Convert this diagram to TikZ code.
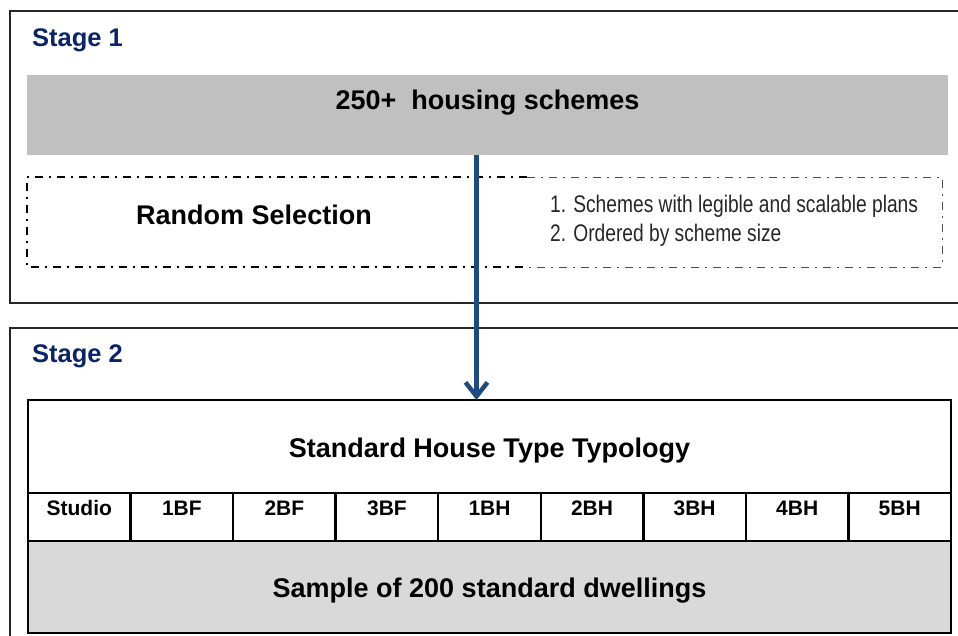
\documentclass[tikz,border=0pt]{standalone}
\usepackage{fontspec}
\setmainfont{Liberation Sans}
\newfontfamily\narrowfont[FakeStretch=0.8]{Liberation Sans}
\usetikzlibrary{arrows.meta, positioning}
\definecolor{stageblue}{HTML}{0B2466}
\definecolor{flowblue}{HTML}{1F4A7D}
\definecolor{barg}{HTML}{C0C0C0}
\definecolor{sampleg}{HTML}{D9D9D9}

\begin{document}
\begin{tikzpicture}[
    x=1pt, y=-1pt,
    frame/.style={draw=black!85, line width=2.5pt},
    stagelabel/.style={anchor=base west, inner sep=0pt, text=stageblue, font=\fontsize{25.5}{30}\selectfont\bfseries},
    heading/.style={anchor=base, inner sep=0pt, font=\fontsize{27}{32}\selectfont\bfseries},
    crit/.style={anchor=base west, inner sep=0pt, text=black!85, font=\narrowfont\fontsize{24}{29}\selectfont},
    selbox/.style={line width=1.6pt, dash pattern=on 8pt off 6pt on 2pt off 6pt},
    selthin/.style={line width=0.8pt, draw=black!70, dash pattern=on 8pt off 6pt on 2pt off 6pt},
    tbox/.style={rectangle, draw, line width=2.5pt, outer sep=0pt, inner ysep=0pt, minimum width=923pt, text centered},
    cell/.style={rectangle, draw, line width=2.5pt, outer sep=0pt, inner ysep=0pt, minimum width=102.556pt,
        text height=22pt, text depth=26pt, font=\fontsize{21}{25}\selectfont\bfseries},
    flow/.style={draw=flowblue, line width=5.5pt, -{Straight Barb[length=14pt, width=22pt, line width=4.5pt]}},
    font=\bfseries
]
\useasboundingbox (0,0) rectangle (958,636);

% Stage frames
\draw[frame] (958,11) -- (10,11) -- (10,303) -- (958,303);
\draw[frame] (958,328) -- (10,328) -- (10,636);

% Titles
\node[stagelabel] (stage1) at (32,47) {Stage 1};
\node[stagelabel] (stage2) at (32,362) {Stage 2};

% Stage 1
\node[rectangle, fill=barg, minimum width=921pt, minimum height=80pt, outer sep=0pt,
    text height=35pt, text depth=45pt, inner ysep=0pt, font=\fontsize{27}{32}\selectfont\bfseries]
    (schemes) at (487.5,115) {250+\ \ housing schemes};

\draw[selbox] (527,177) -- (27,177) -- (27,267) -- (527,267);
\draw[selthin] (527,177) -- (942,177) -- (942,267) -- (527,267);
\node[heading] (random) at (254,225) {Random Selection};
\node[crit] (crit1) at (550,213) {1. Schemes with legible and scalable plans};
\node[crit] (crit2) at (550,242) {2. Ordered by scheme size};

% Stage 2 table
\node[tbox, anchor=north, text height=57pt, text depth=36pt, font=\fontsize{27}{32}\selectfont\bfseries]
    (typology) at (489.5,400) {Standard House Type Typology};
\foreach \lbl [count=\i from 0] in {Studio,1BF,2BF,3BF,1BH,2BH,3BH,4BH,5BH}
    \node[cell, anchor=north west] (type\i) at (28+\i*102.556,493) {\lbl};
\node[tbox, fill=sampleg, anchor=north west, text height=56pt, text depth=36pt, font=\fontsize{27}{32}\selectfont\bfseries]
    (sample) at (type0.south west) {Sample of 200 standard dwellings};

% Arrow
\draw[flow] ([xshift=-11pt]schemes.south) -- ([xshift=-11pt]schemes.south |- typology.north);

\end{tikzpicture}
\end{document}
